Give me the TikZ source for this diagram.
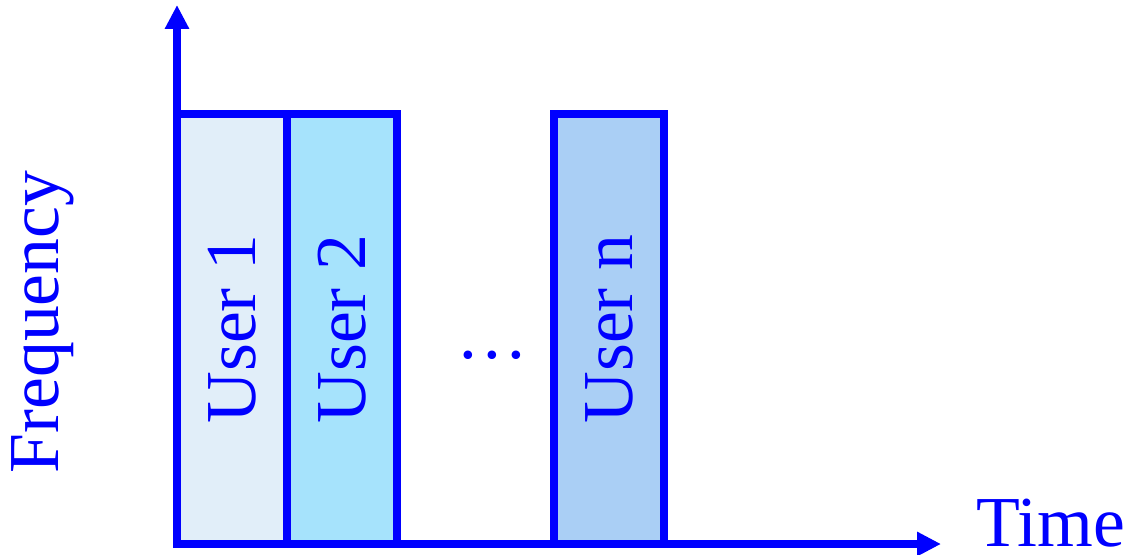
\documentclass[tikz,border=0pt]{standalone}
\usepackage{fontspec}
\setmainfont{Liberation Serif}
\usepackage{graphicx}
\usetikzlibrary{positioning, arrows.meta}
\definecolor{userone}{HTML}{E1EEF9}
\definecolor{usertwo}{HTML}{A6E3FC}
\definecolor{usern}{HTML}{AACFF5}
\tikzset{user/.style={draw=blue, line width=0.2cm, minimum width=2.75cm, minimum height=10.75cm, outer sep=0pt, inner sep=0pt, text=blue, font=\fontsize{51}{60}\selectfont},
axis/.style={draw=blue, line width=0.2cm, -{Triangle[length=0.6cm,width=0.575cm]}},
lbl/.style={text=blue, inner sep=0pt, font=\fontsize{51}{60}\selectfont}
}

\begin{document}
\begin{tikzpicture}
\useasboundingbox (0,0) rectangle (28.35,13.85);
\coordinate (origin) at (4.425,0.25);
\coordinate (ytop) at (4.425,13.725);
\coordinate (xend) at (23.525,0.25);

\node[user, fill=userone, anchor=south west] (u1) at (origin) {\rotatebox{90}{User 1}};
\node[user, fill=usertwo, right=0pt of u1] (u2) {\rotatebox{90}{User 2}};
\node[user, fill=usern, right=3.925cm of u2] (un) {\rotatebox{90}{User n}};

\node[lbl, anchor=base] (dots) at (12.3,4.9) {\dots};

\draw[axis] (origin) -- (ytop);
\draw[axis] (origin) -- (xend);

\node[lbl, rotate=90] (freq) at (1.07,5.8) {Frequency};
\node[lbl, anchor=base west] (time) at (24.4,0.2) {Time};
\end{tikzpicture}
\end{document}
